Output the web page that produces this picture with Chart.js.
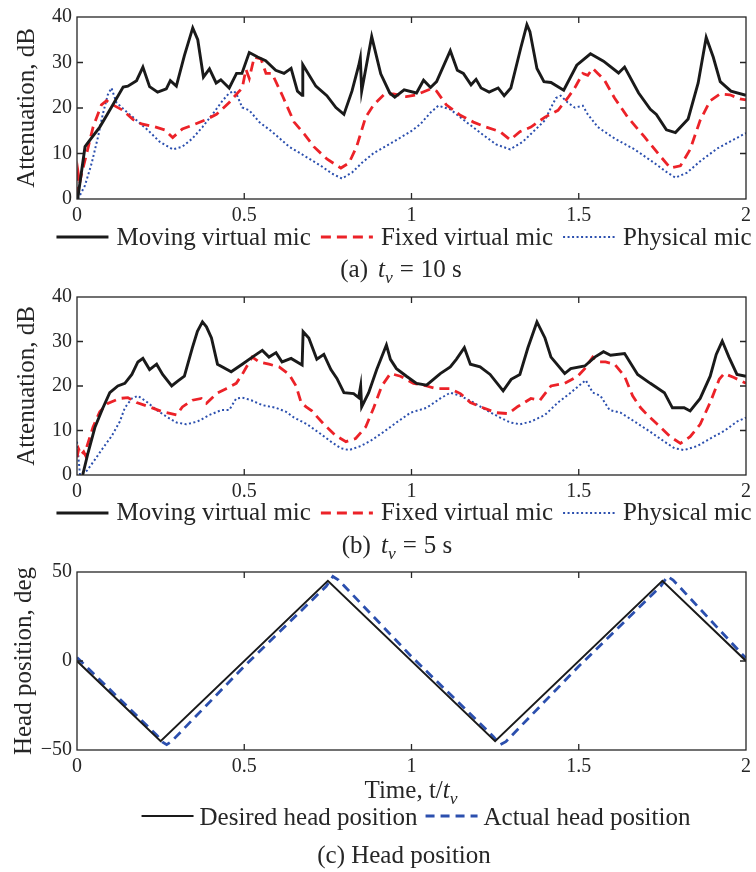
<!DOCTYPE html>
<html>
<head>
<meta charset="utf-8">
<script src="https://cdn.jsdelivr.net/npm/chart.js@4.4.1/dist/chart.umd.min.js"></script>
<style>
  body { margin: 0; background: #fff; width: 756px; height: 872px; position: relative; overflow: hidden; }
  canvas { position: absolute; left: 0; }
</style>
</head>
<body>
<canvas id="chartA" width="756" height="290" style="top:0px"></canvas>
<canvas id="chartB" width="756" height="290" style="top:280px"></canvas>
<canvas id="chartC" width="756" height="317" style="top:555px"></canvas>
<script>
// tick labels
var xTickLabels = ['0', '0.5', '1', '1.5', '2'];
var attTickLabels = ['0', '10', '20', '30', '40'];
var headTickLabels = ['\u221250', '0', '50'];

// (a) t_v = 10 s
var aMovingT = [0.002,0.024,0.039,0.068,0.089,0.138,0.152,0.178,0.197,0.217,0.241,0.267,0.279,0.297,0.321,0.346,0.361,0.378,0.396,0.416,0.43,0.455,0.477,0.493,0.515,0.54,0.564,0.594,0.619,0.64,0.659,0.673,0.675,0.714,0.747,0.774,0.798,0.822,0.842,0.847,0.851,0.881,0.908,0.935,0.95,0.978,1.015,1.036,1.057,1.075,1.116,1.137,1.155,1.178,1.193,1.208,1.232,1.259,1.277,1.297,1.327,1.345,1.354,1.375,1.396,1.417,1.455,1.494,1.535,1.574,1.619,1.637,1.679,1.714,1.732,1.762,1.789,1.827,1.857,1.881,1.902,1.923,1.955,2.0];
var aMoving  = [0,11.5,13,15.8,18.4,24.6,24.8,26,29,24.7,23.5,24.2,26,24.8,31.5,37.6,35,26.8,28.6,25.5,26.2,24.4,27.6,27.6,32.2,31.2,30.4,28.3,27.6,28.7,23.7,22.8,29.5,24.8,22.7,20.1,18.6,23.7,29.3,31,23.7,35.7,27.5,23.3,22.4,24,23.3,26.1,24.5,25.8,32.6,28.3,27.6,25.1,26.3,24.4,23.5,24.4,22.7,24.4,33.3,38.3,36.8,28.7,25.8,25.6,23.9,29.4,31.9,30.3,27.7,29,23.3,19.7,18.6,15.2,14.6,17.6,25.5,35.5,31.2,25.8,23.7,22.8];
var aFixedT = [0,0.004,0.008,0.012,0.029,0.048,0.073,0.088,0.107,0.137,0.167,0.193,0.226,0.262,0.286,0.315,0.345,0.387,0.417,0.455,0.485,0.494,0.505,0.515,0.53,0.55,0.565,0.583,0.613,0.649,0.679,0.708,0.747,0.789,0.813,0.836,0.863,0.887,0.917,0.946,0.985,1.015,1.057,1.075,1.104,1.146,1.185,1.223,1.265,1.295,1.324,1.357,1.399,1.438,1.467,1.488,1.512,1.527,1.542,1.557,1.577,1.607,1.646,1.696,1.744,1.774,1.804,1.833,1.863,1.893,1.923,1.952,1.982,2.0];
var aFixed  = [0.5,5.5,3.5,5,10,15.8,20.7,21.6,20.7,19.5,17.5,16.5,16,15.2,13.5,15.4,16.2,17.5,18.6,21.2,23.7,24.4,28.5,26.5,31.2,30.8,27.6,27.6,22.9,16.9,14.3,11.5,8.8,6.8,7.9,11.5,18,20.7,22.9,23.1,22.5,22.9,24.2,23.7,20.7,18.4,16.9,15.8,14.8,13,14.8,15.8,18,19.5,22.2,24.4,27.6,27.2,28.7,27.6,26.1,22.2,18,13.7,9.4,6.8,7.3,10.9,17.3,21.6,23.1,22.9,22,21.8];
var aPhysT = [0.003,0.024,0.044,0.063,0.077,0.092,0.103,0.118,0.143,0.178,0.211,0.247,0.286,0.315,0.345,0.375,0.405,0.435,0.455,0.47,0.479,0.494,0.515,0.545,0.583,0.634,0.673,0.729,0.762,0.792,0.822,0.851,0.887,0.937,0.997,1.027,1.057,1.08,1.116,1.164,1.214,1.253,1.295,1.333,1.357,1.399,1.417,1.432,1.446,1.467,1.488,1.512,1.527,1.557,1.607,1.667,1.726,1.765,1.789,1.824,1.863,1.914,1.952,2.0];
var aPhys  = [0,3,7.9,13.7,18.6,22.9,24.4,21.2,19.5,17.3,15.2,12.6,10.9,11.5,13.3,15.8,18.6,21.6,23.3,23.7,22.7,20.1,19.5,16.9,14.8,11.5,9.8,7.3,5.6,4.5,5.8,7.9,10.1,12.2,14.8,16.5,19,20.5,19.7,16.9,14.1,12,10.9,12.6,14.3,17.3,20.1,22.2,22.7,21.2,20.1,20.5,18.6,15.8,13.3,10.9,7.9,5.8,4.7,5.8,8.3,11.1,12.6,14.5];

// (b) t_v = 5 s
var bMovingT = [0.017,0.033,0.054,0.077,0.098,0.122,0.143,0.164,0.182,0.197,0.217,0.238,0.256,0.283,0.301,0.321,0.345,0.36,0.375,0.387,0.402,0.42,0.461,0.494,0.524,0.554,0.574,0.595,0.613,0.64,0.673,0.676,0.693,0.717,0.738,0.759,0.777,0.798,0.827,0.842,0.848,0.851,0.872,0.896,0.925,0.937,0.955,0.985,1.015,1.045,1.086,1.116,1.134,1.158,1.176,1.205,1.235,1.274,1.298,1.324,1.348,1.375,1.399,1.417,1.458,1.476,1.518,1.548,1.574,1.595,1.637,1.676,1.714,1.756,1.78,1.815,1.833,1.863,1.893,1.911,1.929,1.949,1.973,2.0];
var bMoving  = [0,5,10.8,15,18.5,20,20.6,22.6,25.4,26.2,23.7,24.9,22.6,20,21.1,22.2,28.6,32.3,34.4,33.3,30.8,24.9,23.2,24.9,26.5,28,26.5,27.5,25.4,26.2,24.7,32.2,30.8,26,27.1,23.7,21.7,18.5,18.3,17.4,20,15.3,18.5,23.7,29.2,26,23.9,22.2,20.6,20.2,22.8,24.3,26,28.6,24.9,24.3,22.6,18.9,21.5,22.6,28.6,34.4,30.8,26.5,22.8,23.9,24.5,26.5,27.7,26.9,27.3,22.6,20.6,18.5,15.1,15.1,14.4,17.2,22.2,27.1,30.1,26.5,22.6,22.2];
var bFixedT = [0,0.005,0.012,0.02,0.026,0.03,0.048,0.068,0.092,0.128,0.152,0.178,0.217,0.256,0.298,0.315,0.345,0.372,0.387,0.417,0.446,0.476,0.494,0.515,0.524,0.545,0.574,0.604,0.634,0.655,0.67,0.685,0.702,0.738,0.774,0.804,0.833,0.863,0.887,0.911,0.937,0.967,1.006,1.045,1.075,1.116,1.146,1.176,1.214,1.253,1.289,1.318,1.357,1.384,1.417,1.458,1.497,1.518,1.542,1.562,1.58,1.607,1.637,1.661,1.685,1.705,1.735,1.774,1.804,1.833,1.863,1.893,1.92,1.935,1.964,2.0];
var bFixed  = [4,5.8,4.5,5.2,4.3,6.5,10.8,14.2,16.1,17.2,17.4,16.3,15.3,14.2,13.5,15.3,16.8,17.2,16.1,18.3,19.4,20.6,22.6,25.4,26.5,25.4,24.9,24.3,22.6,20,16.3,15.3,14.4,11.4,8.8,7.5,8.2,10.8,15.1,20,22.8,22.2,20.6,20,19.4,19.4,18.3,16.3,15.1,14,13.8,15.4,17.2,16.8,20,20.6,22.2,23.9,26.5,25.4,25.4,24.9,22.2,17.8,15.1,13.5,11.4,8.6,7.1,8.6,11.4,16.3,21.5,22.8,21.9,20.6];
var bPhysT = [0,0.009,0.03,0.054,0.077,0.104,0.128,0.143,0.164,0.182,0.211,0.238,0.268,0.298,0.327,0.36,0.396,0.432,0.455,0.476,0.494,0.521,0.554,0.595,0.625,0.649,0.688,0.729,0.759,0.789,0.813,0.848,0.878,0.917,0.955,0.997,1.045,1.086,1.116,1.146,1.185,1.223,1.265,1.295,1.324,1.357,1.399,1.438,1.476,1.506,1.521,1.542,1.565,1.592,1.625,1.667,1.714,1.756,1.786,1.815,1.854,1.893,1.935,1.973,2.0];
var bPhys  = [7.5,0,1,3.5,6,8.8,12,15.1,17.2,17.8,16.3,14.6,13.1,11.8,11.4,12,13.5,14.6,14.6,17.2,17.4,16.8,15.7,15.1,14.2,12.9,11.4,9.2,7.5,6,5.6,6.5,7.7,9.7,11.8,14,15.1,17.2,18.5,17.8,16.3,14.6,12.9,11.8,11.4,12,13.5,16.3,18.5,20.4,21.3,18.5,17.8,14.6,14,12,9.7,7.5,6,5.6,6.5,8.2,9.9,12,12.9];

// (c) head position
var cDesiredT = [0, 0.25, 0.75, 1.25, 1.75, 2];
var cDesired  = [0, -45, 45, -45, 45, 0];
var cActualT = [0, 0.24, 0.255, 0.268, 0.282, 0.5, 0.745, 0.765, 0.782, 1.0, 1.245, 1.265, 1.282, 1.5, 1.745, 1.765, 1.782, 2.0];
var cActual  = [2, -42, -45.5, -47, -45.3, -3, 42, 47.5, 45.5, 2.5, -42.5, -47, -45.3, -3, 42, 47.5, 45.5, 1.5];

var FONT = '"Liberation Serif", "Times New Roman", serif';
var INK = '#262626';
var BLACK = '#1a1a1a';
var RED = '#ec2228';
var BLUE = '#2b4fae';

function pts(xs, ys) {
    return xs.map(function (x, i) { return {x: x, y: ys[i]}; });
}

function line(label, xs, ys, color, width, dash) {
    return {
        label: label,
        data: pts(xs, ys),
        borderColor: color,
        borderWidth: width,
        borderDash: dash,
        pointRadius: 0,
        tension: 0,
        fill: false
    };
}

// draws text made of pieces: ['text', style] with style 'i' italic, 'is' italic subscript; numbers are gaps
function richText(ctx, segs, x, y, size) {
    var parts = segs.map(function (s) {
        if (typeof s === 'number') return {w: s};
        var italic = s[1] && s[1].indexOf('i') >= 0;
        var sub = s[1] && s[1].indexOf('s') >= 0;
        var fs = sub ? size * 0.7 : size;
        var font = (italic ? 'italic ' : '') + fs + 'px ' + FONT;
        ctx.font = font;
        return {text: s[0], font: font, dy: sub ? size * 0.22 : 0, w: ctx.measureText(s[0]).width};
    });
    var total = parts.reduce(function (a, p) { return a + p.w; }, 0);
    var px = x - total / 2;
    ctx.fillStyle = INK;
    ctx.textAlign = 'left';
    ctx.textBaseline = 'alphabetic';
    parts.forEach(function (p) {
        if (p.text) {
            ctx.font = p.font;
            ctx.fillText(p.text, px, y + p.dy);
        }
        px += p.w;
    });
}

var framePlugin = {
    id: 'frame',
    afterDraw: function (chart, args, opts) {
        var ctx = chart.ctx;
        var a = chart.chartArea;
        var xs = chart.scales.x, ys = chart.scales.y;
        ctx.save();
        ctx.strokeStyle = INK;
        ctx.lineWidth = 1.3;
        ctx.setLineDash([]);
        ctx.strokeRect(a.left, a.top, a.right - a.left, a.bottom - a.top);
        var L = 6;
        ctx.beginPath();
        xs.ticks.forEach(function (t) {
            var px = xs.getPixelForValue(t.value);
            if (px < a.left + 2 || px > a.right - 2) return;
            ctx.moveTo(px, a.bottom); ctx.lineTo(px, a.bottom - L);
            ctx.moveTo(px, a.top); ctx.lineTo(px, a.top + L);
        });
        ys.ticks.forEach(function (t) {
            var py = ys.getPixelForValue(t.value);
            if (py < a.top + 2 || py > a.bottom - 2) return;
            ctx.moveTo(a.left, py); ctx.lineTo(a.left + L, py);
            ctx.moveTo(a.right, py); ctx.lineTo(a.right - L, py);
        });
        ctx.stroke();

        // legend row under the axes
        if (opts.legend) {
            var lg = opts.legend;
            ctx.font = '25px ' + FONT;
            var items = chart.data.datasets.map(function (d) {
                return {d: d, w: ctx.measureText(d.label).width};
            });
            var total = items.reduce(function (s, it) { return s + lg.sample + lg.gap + it.w; }, 0) + lg.sep * (items.length - 1);
            var px = lg.cx - total / 2;
            items.forEach(function (it) {
                ctx.strokeStyle = it.d.borderColor;
                ctx.lineWidth = it.d.borderWidth;
                ctx.setLineDash(it.d.borderDash || []);
                ctx.beginPath();
                ctx.moveTo(px, lg.lineY);
                ctx.lineTo(px + lg.sample, lg.lineY);
                ctx.stroke();
                ctx.setLineDash([]);
                px += lg.sample + lg.gap;
                ctx.fillStyle = INK;
                ctx.textAlign = 'left';
                ctx.textBaseline = 'alphabetic';
                ctx.font = '25px ' + FONT;
                ctx.fillText(it.d.label, px, lg.textY);
                px += it.w + lg.sep;
            });
        }
        if (opts.xTitle) richText(ctx, opts.xTitle.segs, opts.xTitle.cx, opts.xTitle.y, 25);
        if (opts.caption) richText(ctx, opts.caption.segs, opts.caption.cx, opts.caption.y, 25);
        ctx.restore();
    }
};

function makeChart(id, datasets, y, deco) {
    return new Chart(document.getElementById(id), {
        type: 'line',
        data: {datasets: datasets},
        options: {
            responsive: false,
            animation: false,
            layout: {padding: {top: y.top, right: 8, left: 0, bottom: 0}},
            plugins: {
                legend: {display: false},
                tooltip: {enabled: false},
                frame: deco
            },
            scales: {
                x: {
                    type: 'linear', min: 0, max: 2,
                    afterFit: function (s) { s.height = y.xAxisH; },
                    grid: {display: false, drawTicks: false},
                    border: {display: false},
                    ticks: {
                        stepSize: 0.5, autoSkip: false, maxRotation: 0, padding: 5,
                        color: INK, font: {family: FONT, size: 20},
                        callback: function (v, i) { return xTickLabels[i]; }
                    }
                },
                y: {
                    type: 'linear', min: y.min, max: y.max,
                    afterFit: function (s) { s.width = 77; },
                    grid: {display: false, drawTicks: false},
                    border: {display: false},
                    ticks: {
                        stepSize: y.step, autoSkip: false, padding: 5,
                        color: INK, font: {family: FONT, size: 20},
                        callback: function (v, i) { return y.labels[i]; }
                    },
                    title: {
                        display: true, text: y.title, color: INK,
                        font: {family: FONT, size: 25},
                        padding: {top: y.titlePad, bottom: 0}
                    }
                }
            }
        },
        plugins: [framePlugin]
    });
}

var micLegend = function (lineY, textY) {
    return {cx: 404, lineY: lineY, textY: textY, sample: 52, gap: 8, sep: 10};
};

makeChart('chartA', [
    line('Moving virtual mic', aMovingT, aMoving, BLACK, 2.9, []),
    line('Fixed virtual mic', aFixedT, aFixed, RED, 2.8, [10, 6]),
    line('Physical mic', aPhysT, aPhys, BLUE, 2, [2, 2.5])
], {min: 0, max: 40, step: 10, labels: attTickLabels, title: 'Attenuation, dB', titlePad: 12, top: 12, xAxisH: 91}, {
    legend: micLegend(237, 245),
    caption: {cx: 401, y: 277, segs: [['(a)'], 10, ['t', 'i'], ['v', 'is'], 7, ['='], 7, ['10 s']]}
});

makeChart('chartB', [
    line('Moving virtual mic', bMovingT, bMoving, BLACK, 2.9, []),
    line('Fixed virtual mic', bFixedT, bFixed, RED, 2.8, [10, 6]),
    line('Physical mic', bPhysT, bPhys, BLUE, 2, [2, 2.5])
], {min: 0, max: 40, step: 10, labels: attTickLabels, title: 'Attenuation, dB', titlePad: 12, top: 9, xAxisH: 95}, {
    legend: micLegend(233, 240),
    caption: {cx: 397, y: 273, segs: [['(b)'], 10, ['t', 'i'], ['v', 'is'], 7, ['='], 7, ['5 s']]}
});

makeChart('chartC', [
    line('Desired head position', cDesiredT, cDesired, BLACK, 2, []),
    line('Actual head position', cActualT, cActual, BLUE, 2.8, [9, 6])
], {min: -50, max: 50, step: 50, labels: headTickLabels, title: 'Head position, deg', titlePad: 9, top: 11, xAxisH: 122}, {
    legend: {cx: 416, lineY: 261, textY: 270, sample: 52, gap: 6, sep: 8},
    xTitle: {cx: 411, y: 243, segs: [['Time, t/'], ['t', 'i'], ['v', 'is']]},
    caption: {cx: 404, y: 308, segs: [['(c) Head position']]}
});
</script>
</body>
</html>
